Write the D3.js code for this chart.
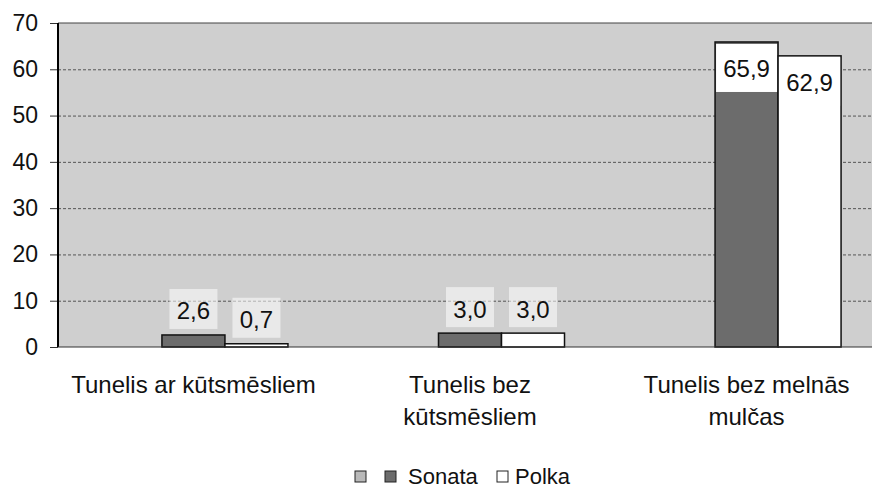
<!DOCTYPE html>
<html>
<head>
<meta charset="utf-8">
<script src="https://cdn.jsdelivr.net/npm/d3@7"></script>
<style>
  html, body { margin: 0; padding: 0; background: #fff; }
  svg { display: block; font-family: "Liberation Sans", Arial, sans-serif; }
</style>
</head>
<body>
<div id="chart"></div>
<script>
// categories and series values
const categories = ['Tunelis ar kūtsmēsliem', 'Tunelis bez kūtsmēsliem', 'Tunelis bez melnās mulčas'];
const categoryLines = [['Tunelis ar kūtsmēsliem'], ['Tunelis bez', 'kūtsmēsliem'], ['Tunelis bez melnās', 'mulčas']];
const seriesNames = ['', 'Sonata', 'Polka'];
const blankValues = [null, null, null];
const sonataValues = [2.6, 3.0, 65.9];
const polkaValues = [0.7, 3.0, 62.9];
const yTicks = [0, 10, 20, 30, 40, 50, 60, 70];

const seriesFill = { '': '#b9b9b9', 'Sonata': '#6c6c6c', 'Polka': '#ffffff' };

const width = 872, height = 493;
const plot = { left: 58, top: 23, right: 890, bottom: 347 };

const svg = d3.select('#chart').append('svg')
  .attr('width', width)
  .attr('height', height);

// build rows for the bars
const valuesBySeries = { '': blankValues, 'Sonata': sonataValues, 'Polka': polkaValues };
const rows = categories.map((c, i) => ({
  category: c,
  bars: seriesNames.map(s => ({ series: s, value: valuesBySeries[s][i] }))
}));

const x0 = d3.scaleBand()
  .domain(categories)
  .range([plot.left, 882])
  .paddingInner(0.3165)
  .paddingOuter(0.148);

const x1 = d3.scaleBand()
  .domain(seriesNames)
  .range([0, x0.bandwidth()]);

const y = d3.scaleLinear()
  .domain([0, 70])
  .range([plot.bottom, plot.top]);

// plot background
svg.append('rect')
  .attr('x', plot.left)
  .attr('y', plot.top)
  .attr('width', plot.right - plot.left)
  .attr('height', plot.bottom - plot.top)
  .attr('fill', '#cfcfcf');

// gridlines
svg.append('g')
  .attr('class', 'grid')
  .attr('transform', `translate(${plot.left},0)`)
  .call(d3.axisLeft(y).tickValues(yTicks.slice(1, -1)).tickSize(-(plot.right - plot.left)).tickFormat(''))
  .call(g => g.select('.domain').remove())
  .call(g => g.selectAll('line')
    .attr('stroke', '#555')
    .attr('stroke-width', 1)
    .attr('stroke-dasharray', '3,2'));

// top border
svg.append('line')
  .attr('x1', plot.left).attr('x2', plot.right)
  .attr('y1', y(70)).attr('y2', y(70))
  .attr('stroke', '#444').attr('stroke-width', 1.2);

// bars
const groups = svg.selectAll('.group')
  .data(rows)
  .enter().append('g')
  .attr('class', 'group')
  .attr('transform', d => `translate(${x0(d.category)},0)`);

groups.selectAll('rect.bar')
  .data(d => d.bars.filter(b => b.value != null))
  .enter().append('rect')
  .attr('class', 'bar')
  .attr('x', d => x1(d.series))
  .attr('y', d => y(d.value))
  .attr('width', x1.bandwidth())
  .attr('height', d => y(0) - y(d.value))
  .attr('fill', d => seriesFill[d.series])
  .attr('stroke', '#111')
  .attr('stroke-width', 1.5);

// data labels
const fmt = v => d3.format('.1f')(v).replace('.', ',');
const labels = groups.selectAll('g.lbl')
  .data(d => d.bars.filter(b => b.value != null))
  .enter().append('g')
  .attr('class', 'lbl')
  .attr('transform', d => {
    const cx = x1(d.series) + x1.bandwidth() / 2;
    const cy = d.value > 50 ? y(d.value) + 27 : y(d.value) - 24;
    return `translate(${cx},${cy})`;
  });

labels.append('rect')
  .attr('x', d => d.value > 50 ? -x1.bandwidth() / 2 + 1 : -24)
  .attr('y', d => d.value > 50 ? -25 : -22)
  .attr('width', d => d.value > 50 ? x1.bandwidth() - 2 : 48)
  .attr('height', d => d.value > 50 ? 48 : 40)
  .attr('fill', '#fff')
  .attr('opacity', d => d.value > 50 ? 1 : 0.55);

labels.append('text')
  .attr('text-anchor', 'middle')
  .attr('dy', '0.35em')
  .style('font-size', '24px')
  .attr('fill', '#111')
  .text(d => fmt(d.value));

// y axis
const yAxis = svg.append('g')
  .attr('transform', `translate(${plot.left},0)`)
  .call(d3.axisLeft(y).tickValues(yTicks).tickSize(8).tickPadding(12).tickFormat(d3.format('d')));
yAxis.select('.domain').remove();
yAxis.selectAll('line').attr('stroke', '#333');
yAxis.selectAll('text')
  .style('font-size', '23px')
  .style('font-family', '"Liberation Sans", Arial, sans-serif')
  .attr('fill', '#111');

svg.append('line')
  .attr('x1', plot.left).attr('x2', plot.left)
  .attr('y1', plot.top).attr('y2', plot.bottom)
  .attr('stroke', '#000').attr('stroke-width', 2);

// x axis baseline
svg.append('line')
  .attr('x1', plot.left).attr('x2', plot.right)
  .attr('y1', y(0)).attr('y2', y(0))
  .attr('stroke', '#333').attr('stroke-width', 1.2);

// category labels
const catLabels = svg.selectAll('.cat')
  .data(categories)
  .enter().append('text')
  .attr('class', 'cat')
  .attr('text-anchor', 'middle')
  .attr('x', d => x0(d) + x0.bandwidth() / 2)
  .attr('y', 393)
  .style('font-size', '24px')
  .attr('fill', '#111');

catLabels.each(function(d, i) {
  const t = d3.select(this);
  categoryLines[i].forEach((line, j) => {
    t.append('tspan')
      .attr('x', x0(d) + x0.bandwidth() / 2)
      .attr('dy', j === 0 ? 0 : 32)
      .text(line);
  });
});

// legend
const legendItems = [
  { series: '', box: 355, text: null },
  { series: 'Sonata', box: 385, text: 408 },
  { series: 'Polka', box: 497, text: 515 }
];
const legend = svg.append('g');
legendItems.forEach(item => {
  legend.append('rect')
    .attr('x', item.box)
    .attr('y', 471)
    .attr('width', 11)
    .attr('height', 11)
    .attr('fill', seriesFill[item.series])
    .attr('stroke', '#222')
    .attr('stroke-width', 1);
  if (item.text != null) {
    legend.append('text')
      .attr('x', item.text)
      .attr('y', 484)
      .style('font-size', '22px')
      .attr('fill', '#111')
      .text(item.series);
  }
});
</script>
</body>
</html>
